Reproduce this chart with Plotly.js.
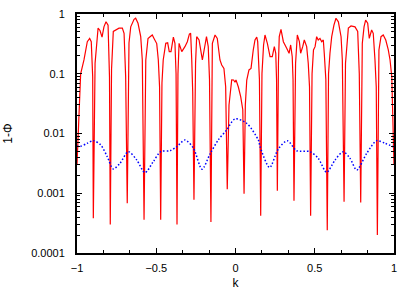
<!DOCTYPE html>
<html>
<head>
<meta charset="utf-8">
<script src="https://cdn.plot.ly/plotly-3.0.1.min.js"></script>
<style>
  html, body { margin: 0; padding: 0; background: #fff; }
  #chart { width: 415px; height: 291px; }
</style>
</head>
<body>
<div id="chart"></div>
<script>
// Red curve (solid): k values and 1-Phi values
const redK = [
  -1.0, -0.977, -0.956, -0.935, -0.920, -0.910, -0.901, -0.897,
  -0.886, -0.867, -0.855, -0.842, -0.830, -0.817, -0.804, -0.795, -0.790,
  -0.782, -0.771, -0.755, -0.735, -0.714, -0.703, -0.693, -0.683,
  -0.672, -0.661, -0.640, -0.630, -0.615, -0.598, -0.588, -0.577,
  -0.566, -0.552, -0.539, -0.525, -0.514, -0.505, -0.497, -0.487, -0.479, -0.472,
  -0.464, -0.456, -0.440, -0.428, -0.418, -0.407, -0.392, -0.382, -0.375, -0.369,
  -0.363, -0.356, -0.339, -0.319, -0.304, -0.291, -0.283, -0.276, -0.270, -0.262,
  -0.252, -0.245, -0.230, -0.209, -0.192, -0.183, -0.172, -0.164, -0.155,
  -0.146, -0.129, -0.115, -0.098, -0.087, -0.073, -0.062, -0.052,
  -0.041, -0.024, -0.012, -0.003, 0.003, 0.018, 0.033, 0.046, 0.054,
  0.062, 0.071, 0.085, 0.098, 0.112, 0.123, 0.134, 0.140, 0.151, 0.159,
  0.167, 0.177, 0.186, 0.201, 0.218, 0.232, 0.245, 0.254, 0.259, 0.264,
  0.271, 0.276, 0.287, 0.302, 0.323, 0.338, 0.348, 0.358, 0.363, 0.369,
  0.379, 0.390, 0.403, 0.411, 0.424, 0.434, 0.449, 0.459, 0.467, 0.474,
  0.483, 0.492, 0.502, 0.512, 0.522, 0.533, 0.544, 0.554, 0.560, 0.570, 0.579,
  0.587, 0.596, 0.607, 0.621, 0.634, 0.649, 0.666, 0.674, 0.685,
  0.694, 0.702, 0.712, 0.729, 0.754, 0.771, 0.781, 0.790,
  0.800, 0.811, 0.821, 0.834, 0.844, 0.859, 0.869, 0.880, 0.888, 0.895,
  0.902, 0.905, 0.918, 0.932, 0.948, 0.964, 0.975, 0.986, 1.0
];
const redPhi = [
  0.003, 0.10, 0.17, 0.344, 0.39, 0.344, 0.089, 0.00038,
  0.15, 0.58, 0.53, 0.41, 0.61, 0.74, 0.65, 0.089, 0.0003,
  0.12, 0.51, 0.54, 0.58, 0.58, 0.475, 0.089, 0.00068,
  0.327, 0.61, 0.815, 0.85, 0.70, 0.417, 0.17, 0.00036,
  0.17, 0.39, 0.417, 0.445, 0.39, 0.34, 0.32, 0.17, 0.06, 0.00036,
  0.07, 0.17, 0.323, 0.33, 0.234, 0.234, 0.41, 0.323, 0.1, 0.0003,
  0.1, 0.323, 0.234, 0.284, 0.344, 0.46, 0.475, 0.17, 0.05, 0.00078,
  0.15, 0.417, 0.367, 0.17, 0.323, 0.417, 0.284, 0.08, 0.00033,
  0.323, 0.445, 0.39, 0.17, 0.14, 0.123, 0.0607, 0.00117,
  0.03, 0.079, 0.0786, 0.072, 0.079, 0.06, 0.041, 0.025, 0.00098,
  0.03, 0.0786, 0.116, 0.123, 0.25, 0.367, 0.41, 0.344, 0.08, 0.00042,
  0.1, 0.3, 0.445, 0.323, 0.193, 0.193, 0.284, 0.22, 0.08, 0.0011,
  0.15, 0.417, 0.555, 0.344, 0.267, 0.22, 0.303, 0.193, 0.08, 0.00075,
  0.15, 0.445, 0.344, 0.22, 0.284, 0.367, 0.284, 0.15, 0.06, 0.00042,
  0.1, 0.25, 0.284, 0.417, 0.367, 0.39, 0.344, 0.367, 0.22, 0.08, 0.00024,
  0.1, 0.22, 0.417, 0.65, 0.85, 0.74, 0.417, 0.17, 0.00072,
  0.15, 0.323, 0.58, 0.63, 0.61, 0.51, 0.1, 0.0007,
  0.323, 0.61, 0.79, 0.70, 0.39, 0.54, 0.475, 0.17, 0.06, 0.0002,
  0.1, 0.25, 0.417, 0.445, 0.367, 0.25, 0.17, 0.089, 0.003
];

// Blue curve (dotted)
const blueK = [
  -0.998, -0.987, -0.935, -0.896, -0.850, -0.809, -0.771, -0.729, -0.676,
  -0.623, -0.571, -0.519, -0.472, -0.413, -0.371, -0.319, -0.266, -0.211,
  -0.161, -0.109, -0.056, -0.003, 0.071, 0.144, 0.155, 0.215, 0.270,
  0.327, 0.386, 0.470, 0.522, 0.575, 0.628, 0.680, 0.722, 0.765,
  0.828, 0.891, 0.943, 0.996
];
const bluePhi = [
  0.00625, 0.0060, 0.00686, 0.00758, 0.00642, 0.00409, 0.00255, 0.00317, 0.00496,
  0.0036, 0.00221, 0.00337, 0.00496, 0.00515, 0.0060, 0.00778, 0.00572, 0.00252,
  0.00454, 0.00778, 0.01146, 0.0175, 0.0148, 0.00778, 0.0060, 0.0027, 0.0055,
  0.00758, 0.00515, 0.00496, 0.00385, 0.00224, 0.0036, 0.00496, 0.00385, 0.00245,
  0.00466, 0.00758, 0.00686, 0.0060
];

const xTitle = 'k';
const yTitle = '1-Φ';

const traces = [
  {
    x: redK, y: redPhi, type: 'scatter', mode: 'lines',
    line: { color: '#ff0000', width: 1.2 },
    hoverinfo: 'skip'
  },
  {
    x: blueK, y: bluePhi, type: 'scatter', mode: 'lines',
    line: { color: '#0000ff', width: 1.5, dash: '1.5px,2px', shape: 'spline', smoothing: 0.8 },
    hoverinfo: 'skip'
  }
];

const fontFam = '"Liberation Sans", Arial, sans-serif';
const layout = {
  width: 415, height: 291,
  margin: { l: 77, r: 21, t: 14, b: 38, pad: 0 },
  paper_bgcolor: '#fff', plot_bgcolor: '#fff',
  showlegend: false,
  font: { family: fontFam, size: 11, color: '#000' },
  xaxis: {
    range: [-1, 1], tick0: -1, dtick: 0.5,
    ticks: 'inside', ticklen: 5, tickwidth: 1, tickcolor: '#000',
    showline: true, linecolor: '#000', linewidth: 2, mirror: 'allticks',
    showgrid: false, zeroline: false,
    ticklabelstandoff: 4,
    minor: { dtick: 1/6, tick0: -1, ticks: 'inside', ticklen: 3, tickcolor: '#000', showgrid: false },
    title: { text: xTitle, font: { size: 12 }, standoff: 5 }
  },
  yaxis: {
    type: 'log', range: [-4, 0], dtick: 1, exponentformat: 'none',
    ticks: 'inside', ticklen: 5, tickwidth: 1, tickcolor: '#000',
    showline: true, linecolor: '#000', linewidth: 2, mirror: 'allticks',
    showgrid: false, zeroline: false,
    ticklabelstandoff: 8,
    minor: { dtick: 'D1', ticks: 'inside', ticklen: 3, tickcolor: '#000', showgrid: false },
    title: { text: yTitle, font: { size: 12 }, standoff: 16 }
  }
};

Plotly.newPlot('chart', traces, layout, { staticPlot: true, displayModeBar: false });
</script>
</body>
</html>
